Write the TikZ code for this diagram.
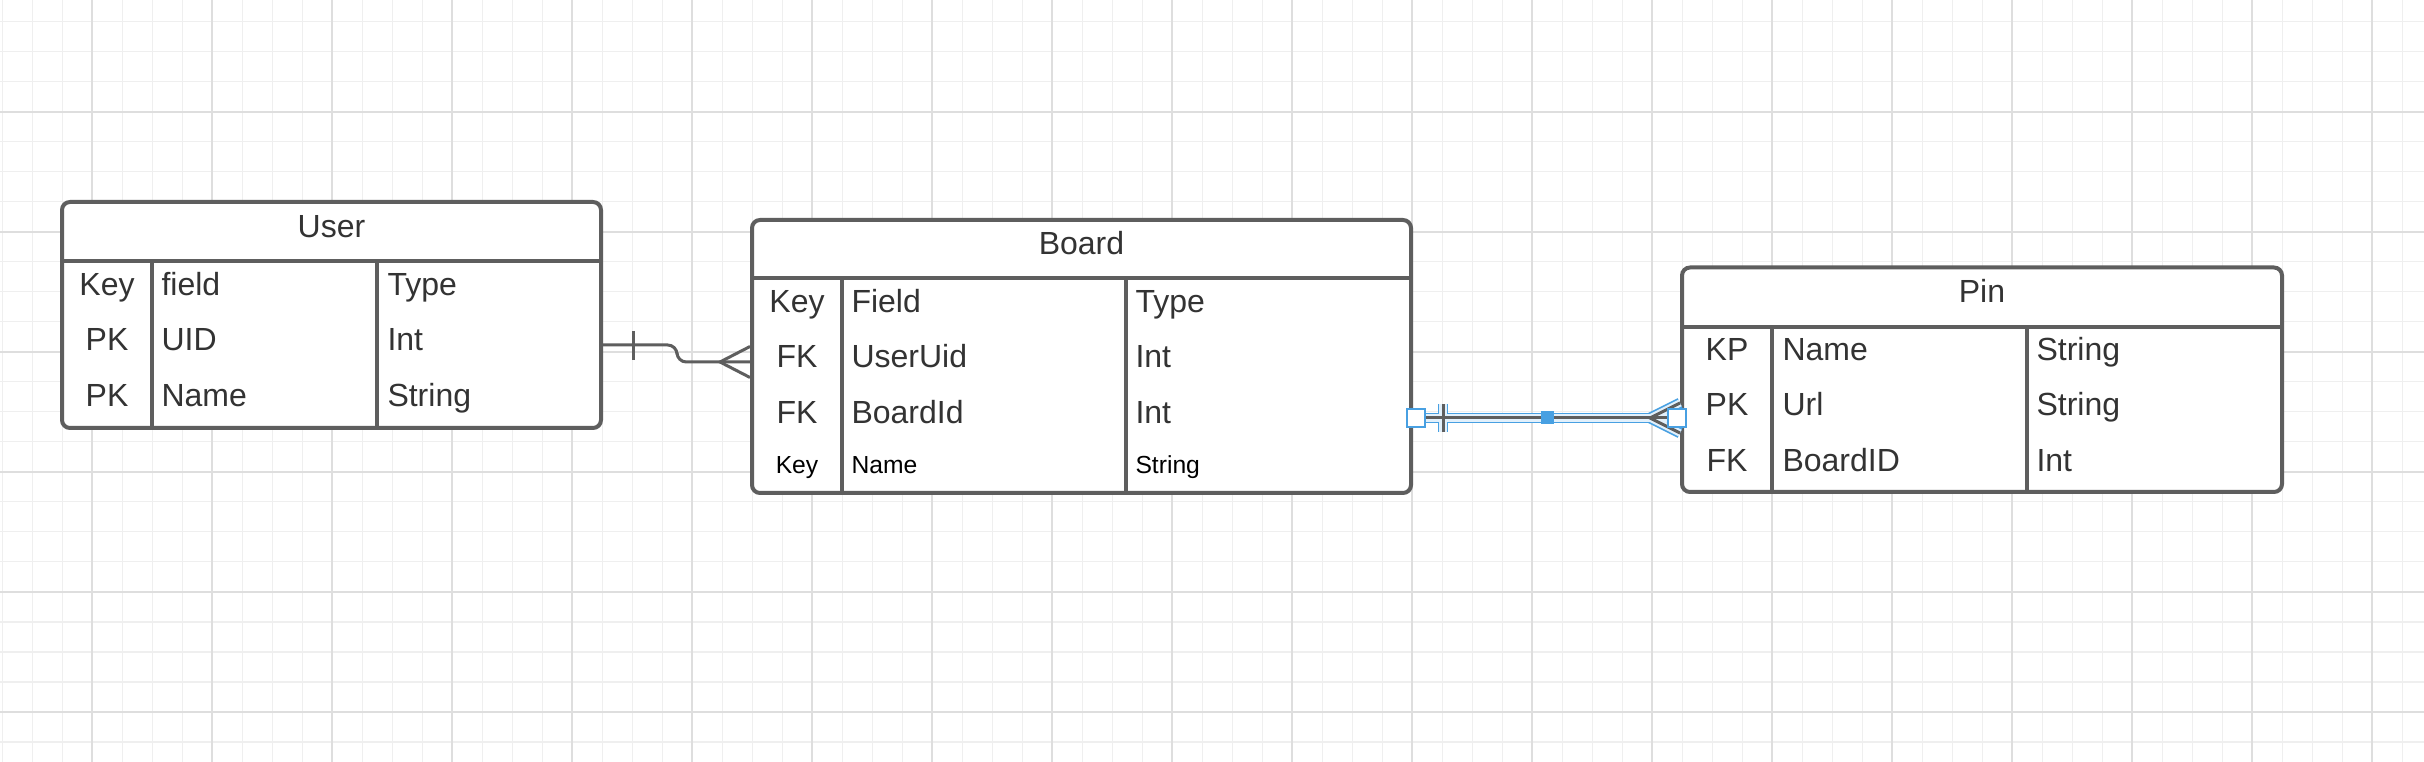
\documentclass[tikz,border=0pt]{standalone}
\usepackage{fontspec}
\setmainfont{Liberation Sans}
\usetikzlibrary{calc,fit}

\definecolor{gridminor}{RGB}{239,239,239}
\definecolor{gridmajor}{RGB}{222,222,222}
\definecolor{boxline}{RGB}{94,94,94}
\definecolor{txt}{RGB}{51,51,51}
\definecolor{selblue}{RGB}{72,160,226}
\definecolor{selpale}{RGB}{226,240,251}

\tikzset{every picture/.style={line width=0.75pt}}
\tikzset{
  entity/.style={draw=boxline, line width=3pt, rounded corners=6pt, fill=white, inner sep=0pt},
  sepline/.style={draw=boxline, line width=3pt},
  titletext/.style={anchor=base, inner sep=0pt, text=txt, font=\fontsize{24}{28}\selectfont},
  keytext/.style={anchor=base, inner sep=0pt, text=txt, font=\fontsize{24}{28}\selectfont},
  celltext/.style={anchor=base west, inner sep=0pt, text=txt, font=\fontsize{24}{28}\selectfont},
  smalltext/.style={text=black, font=\fontsize{18.5}{22}\selectfont},
  relline/.style={draw=boxline, line width=2.25pt},
  selouter/.style={draw=selblue, line width=8pt},
  selinner/.style={draw=selpale, line width=5.5pt},
  handle/.style={draw=selblue, fill=white, line width=1.5pt, minimum size=13pt, inner sep=0pt},
  midhandle/.style={fill=selblue, minimum size=9.75pt, inner sep=0pt}
}

\begin{document}
\begin{tikzpicture}[x=0.75pt,y=0.75pt,yscale=-1,xscale=1]
\useasboundingbox (0,0) rectangle (2424,762);

%Grid
\fill[white] (0,0) rectangle (2424,762);
\foreach \x in {2.3,32.3,...,2424} \draw[gridminor, line width=1.2pt] (\x,0) -- (\x,762);
\foreach \y in {21.7,51.7,...,762} \draw[gridminor, line width=1.2pt] (0,\y) -- (2424,\y);
\foreach \x in {92.3,212.3,...,2424} \draw[gridmajor, line width=1.3pt] (\x,0) -- (\x,762);
\foreach \y in {111.7,231.7,...,762} \draw[gridmajor, line width=1.3pt] (0,\y) -- (2424,\y);

%Shape: Rectangle [User]
\node [entity, fit={(62,202) (601,428)}] (user) {};
\draw [sepline] (62,261.5) -- (601,261.5) ;
\draw [sepline] (152,261.5) -- (152,428) ;
\draw [sepline] (377,261.5) -- (377,428) ;

%Shape: Rectangle [Board]
\node [entity, fit={(752,220) (1411,493)}] (board) {};
\draw [sepline] (752,278.5) -- (1411,278.5) ;
\draw [sepline] (842,278.5) -- (842,493) ;
\draw [sepline] (1126,278.5) -- (1126,493) ;

%Shape: Rectangle [Pin]
\node [entity, fit={(1682,267.5) (2282,492)}] (pin) {};
\draw [sepline] (1682,327) -- (2282,327) ;
\draw [sepline] (1772,327) -- (1772,492) ;
\draw [sepline] (2027,327) -- (2027,492) ;

% Text Node
\draw (331.5,238) node [titletext] (user-title) {User};
\draw (107,296) node [keytext] (user-k1) {Key};
\draw (161,296) node [celltext] (user-f1) {field};
\draw (387,296) node [celltext] (user-t1) {Type};
\draw (107,351) node [keytext] (user-k2) {PK};
\draw (161,351) node [celltext] (user-f2) {UID};
\draw (387,351) node [celltext] (user-t2) {Int};
\draw (107,407) node [keytext] (user-k3) {PK};
\draw (161,407) node [celltext] (user-f3) {Name};
\draw (387,407) node [celltext] (user-t3) {String};

% Text Node
\draw (1081.5,255) node [titletext] (board-title) {Board};
\draw (797,313) node [keytext] (board-k1) {Key};
\draw (851,313) node [celltext] (board-f1) {Field};
\draw (1135,313) node [celltext] (board-t1) {Type};
\draw (797,368) node [keytext] (board-k2) {FK};
\draw (851,368) node [celltext] (board-f2) {UserUid};
\draw (1135,368) node [celltext] (board-t2) {Int};
\draw (797,424) node [keytext] (board-k3) {FK};
\draw (851,424) node [celltext] (board-f3) {BoardId};
\draw (1135,424) node [celltext] (board-t3) {Int};
\draw (797,474) node [keytext, smalltext] (board-k4) {Key};
\draw (851,474) node [celltext, smalltext] (board-f4) {Name};
\draw (1135,474) node [celltext, smalltext] (board-t4) {String};

% Text Node
\draw (1982,303) node [titletext] (pin-title) {Pin};
\draw (1727,361) node [keytext] (pin-k1) {KP};
\draw (1782,361) node [celltext] (pin-f1) {Name};
\draw (2036,361) node [celltext] (pin-t1) {String};
\draw (1727,416) node [keytext] (pin-k2) {PK};
\draw (1782,416) node [celltext] (pin-f2) {Url};
\draw (2036,416) node [celltext] (pin-t2) {String};
\draw (1727,472) node [keytext] (pin-k3) {FK};
\draw (1782,472) node [celltext] (pin-f3) {BoardID};
\draw (2036,472) node [celltext] (pin-t3) {Int};

%Connector User -- Board (one to many)
\coordinate (user-out) at (user.east |- 0,345);
\coordinate (board-in) at (board.west |- 0,362);
\draw [relline, rounded corners=7pt] (user-out) -- (677,345) -- (677,362) -- (board-in) ;
\draw [relline] (633,331) -- (633,360) ;
\draw [relline] ($(board-in)+(0,-15.5)$) -- (720,362) -- ($(board-in)+(0,15.5)$) ;

%Connector Board -- Pin (one to many, selected)
\coordinate (board-out) at (board.east |- 0,418);
\coordinate (pin-in) at (pin.west |- 0,418);
\foreach \sty in {selouter,selinner,relline}{
  \draw [\sty] (board-out) -- (pin-in) ;
  \draw [\sty] (1443,404) -- (1443,432) ;
  \draw [\sty] ($(pin-in)+(0,-15)$) -- (1650,418) -- ($(pin-in)+(0,15)$) ;
}
\node [handle] (h-board) at ($(board-out)+(3,0)$) {};
\node [midhandle] (h-mid) at (1547,418) {};
\node [handle] (h-pin) at ($(pin-in)+(-3,0)$) {};

\end{tikzpicture}
\end{document}
